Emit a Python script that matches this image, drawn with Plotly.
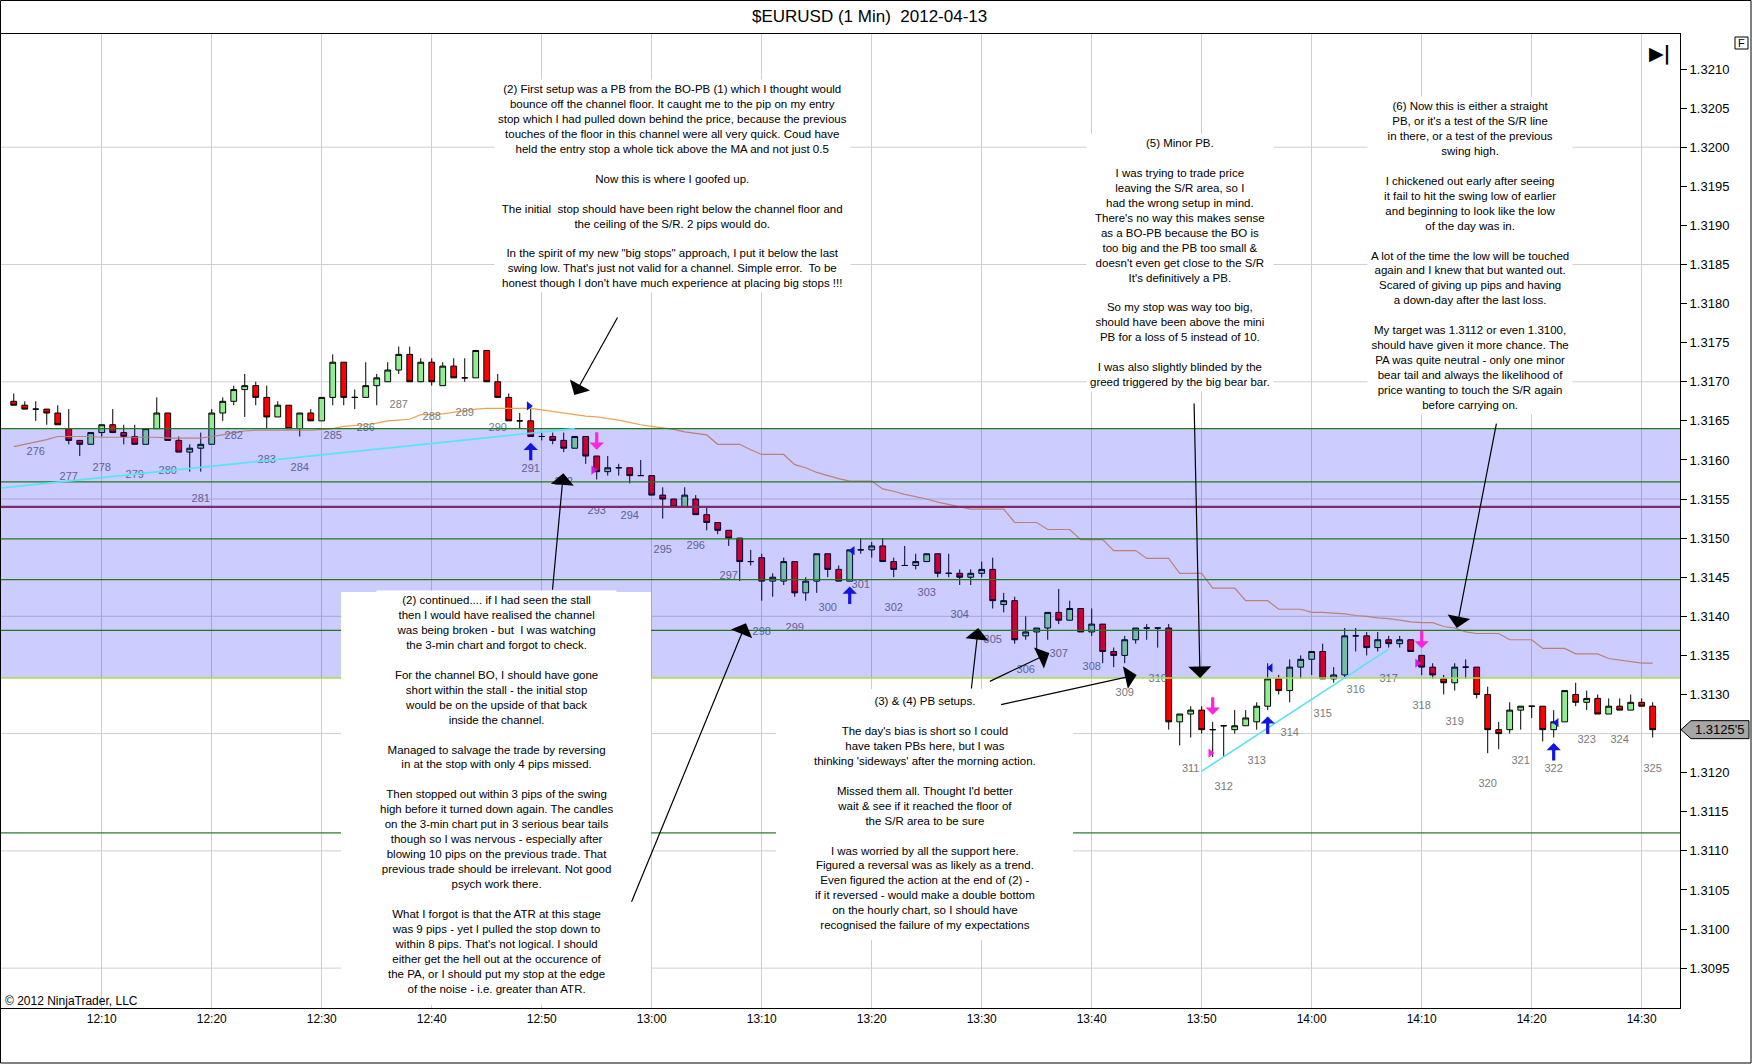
"""EURUSD 1-minute chart with trade-review notes (NinjaTrader style)."""

import pandas as pd
import plotly.graph_objects as go

TITLE = "$EURUSD (1 Min)\u00a0\u00a02012-04-13"
FIRST_BAR = "2012-04-13 12:02"

# one row per 10 bars, 12:02 -> 14:31
OPEN = [
    1.31675, 1.31670, 1.31665, 1.31665, 1.31660, 1.31640, 1.31625, 1.31620, 1.31635, 1.31645,
    1.31635, 1.31630, 1.31620, 1.31640, 1.31660, 1.31625, 1.31610, 1.31615, 1.31620, 1.31660,
    1.31675, 1.31690, 1.31695, 1.31680, 1.31655, 1.31670, 1.31640, 1.31660, 1.31650, 1.31680,
    1.31725, 1.31680, 1.31680, 1.31695, 1.31700, 1.31715, 1.31735, 1.31700, 1.31725, 1.31695,
    1.31720, 1.31705, 1.31705, 1.31740, 1.31700, 1.31680, 1.31650, 1.31650, 1.31630, 1.31630,
    1.31625, 1.31615, 1.31630, 1.31605, 1.31585, 1.31590, 1.31590, 1.31580, 1.31580, 1.31555,
    1.31550, 1.31540, 1.31550, 1.31530, 1.31520, 1.31510, 1.31500, 1.31470, 1.31475, 1.31445,
    1.31445, 1.31470, 1.31430, 1.31445, 1.31480, 1.31460, 1.31445, 1.31485, 1.31485, 1.31490,
    1.31470, 1.31465, 1.31465, 1.31470, 1.31480, 1.31455, 1.31455, 1.31450, 1.31455, 1.31460,
    1.31415, 1.31420, 1.31375, 1.31380, 1.31385, 1.31405, 1.31395, 1.31410, 1.31380, 1.31390,
    1.31355, 1.31350, 1.31370, 1.31385, 1.31385, 1.31385, 1.31265, 1.31275, 1.31280, 1.31255,
    1.31260, 1.31255, 1.31260, 1.31265, 1.31285, 1.31320, 1.31305, 1.31335, 1.31345, 1.31355,
    1.31320, 1.31325, 1.31375, 1.31375, 1.31360, 1.31370, 1.31365, 1.31370, 1.31350, 1.31335,
    1.31320, 1.31315, 1.31335, 1.31335, 1.31300, 1.31255, 1.31255, 1.31280, 1.31285, 1.31285,
    1.31255, 1.31265, 1.31300, 1.31290, 1.31295, 1.31275, 1.31285, 1.31280, 1.31290, 1.31285,
]
HIGH = [
    1.31685, 1.31675, 1.31675, 1.31665, 1.31670, 1.31665, 1.31625, 1.31635, 1.31645, 1.31665,
    1.31645, 1.31645, 1.31640, 1.31680, 1.31660, 1.31630, 1.31620, 1.31635, 1.31665, 1.31680,
    1.31695, 1.31710, 1.31700, 1.31695, 1.31675, 1.31670, 1.31660, 1.31665, 1.31680, 1.31735,
    1.31725, 1.31690, 1.31725, 1.31710, 1.31725, 1.31745, 1.31745, 1.31730, 1.31730, 1.31725,
    1.31730, 1.31730, 1.31740, 1.31740, 1.31710, 1.31685, 1.31660, 1.31670, 1.31635, 1.31635,
    1.31635, 1.31630, 1.31630, 1.31605, 1.31605, 1.31595, 1.31590, 1.31600, 1.31580, 1.31565,
    1.31550, 1.31565, 1.31555, 1.31540, 1.31520, 1.31510, 1.31500, 1.31485, 1.31480, 1.31455,
    1.31475, 1.31470, 1.31450, 1.31480, 1.31480, 1.31465, 1.31485, 1.31500, 1.31495, 1.31500,
    1.31475, 1.31490, 1.31480, 1.31480, 1.31480, 1.31480, 1.31460, 1.31460, 1.31470, 1.31475,
    1.31430, 1.31425, 1.31400, 1.31385, 1.31405, 1.31435, 1.31420, 1.31410, 1.31410, 1.31390,
    1.31360, 1.31375, 1.31385, 1.31390, 1.31385, 1.31390, 1.31275, 1.31285, 1.31285, 1.31265,
    1.31260, 1.31280, 1.31280, 1.31290, 1.31340, 1.31325, 1.31345, 1.31350, 1.31355, 1.31365,
    1.31335, 1.31385, 1.31385, 1.31380, 1.31380, 1.31375, 1.31375, 1.31370, 1.31350, 1.31340,
    1.31325, 1.31340, 1.31345, 1.31335, 1.31310, 1.31265, 1.31290, 1.31285, 1.31285, 1.31285,
    1.31280, 1.31305, 1.31315, 1.31305, 1.31300, 1.31295, 1.31295, 1.31300, 1.31295, 1.31290,
]
LOW = [
    1.31670, 1.31665, 1.31650, 1.31645, 1.31645, 1.31620, 1.31605, 1.31620, 1.31630, 1.31635,
    1.31620, 1.31620, 1.31620, 1.31640, 1.31625, 1.31610, 1.31585, 1.31585, 1.31620, 1.31650,
    1.31670, 1.31655, 1.31670, 1.31640, 1.31655, 1.31640, 1.31630, 1.31650, 1.31650, 1.31670,
    1.31670, 1.31665, 1.31680, 1.31670, 1.31700, 1.31710, 1.31700, 1.31700, 1.31695, 1.31695,
    1.31705, 1.31700, 1.31705, 1.31700, 1.31680, 1.31650, 1.31640, 1.31630, 1.31625, 1.31620,
    1.31610, 1.31615, 1.31595, 1.31575, 1.31580, 1.31580, 1.31570, 1.31580, 1.31555, 1.31525,
    1.31540, 1.31540, 1.31530, 1.31510, 1.31505, 1.31490, 1.31445, 1.31465, 1.31420, 1.31425,
    1.31440, 1.31425, 1.31420, 1.31430, 1.31450, 1.31445, 1.31445, 1.31480, 1.31475, 1.31470,
    1.31450, 1.31465, 1.31460, 1.31470, 1.31450, 1.31450, 1.31440, 1.31440, 1.31450, 1.31410,
    1.31405, 1.31365, 1.31370, 1.31355, 1.31370, 1.31390, 1.31395, 1.31380, 1.31375, 1.31340,
    1.31335, 1.31340, 1.31365, 1.31370, 1.31360, 1.31255, 1.31235, 1.31245, 1.31250, 1.31220,
    1.31220, 1.31250, 1.31260, 1.31255, 1.31280, 1.31300, 1.31290, 1.31320, 1.31325, 1.31320,
    1.31315, 1.31320, 1.31355, 1.31350, 1.31355, 1.31360, 1.31360, 1.31355, 1.31325, 1.31320,
    1.31300, 1.31305, 1.31320, 1.31295, 1.31225, 1.31230, 1.31250, 1.31255, 1.31270, 1.31240,
    1.31245, 1.31265, 1.31285, 1.31280, 1.31275, 1.31275, 1.31280, 1.31280, 1.31285, 1.31245,
]
CLOSE = [
    1.31670, 1.31665, 1.31665, 1.31660, 1.31645, 1.31625, 1.31620, 1.31635, 1.31645, 1.31635,
    1.31630, 1.31620, 1.31640, 1.31660, 1.31625, 1.31610, 1.31615, 1.31620, 1.31660, 1.31675,
    1.31690, 1.31695, 1.31680, 1.31655, 1.31670, 1.31640, 1.31660, 1.31650, 1.31680, 1.31725,
    1.31680, 1.31680, 1.31695, 1.31705, 1.31715, 1.31735, 1.31700, 1.31725, 1.31700, 1.31720,
    1.31705, 1.31705, 1.31740, 1.31700, 1.31680, 1.31650, 1.31650, 1.31630, 1.31630, 1.31625,
    1.31615, 1.31630, 1.31605, 1.31585, 1.31590, 1.31590, 1.31580, 1.31580, 1.31555, 1.31550,
    1.31540, 1.31555, 1.31530, 1.31520, 1.31510, 1.31500, 1.31470, 1.31470, 1.31445, 1.31450,
    1.31470, 1.31430, 1.31445, 1.31480, 1.31460, 1.31445, 1.31485, 1.31485, 1.31490, 1.31470,
    1.31460, 1.31465, 1.31470, 1.31480, 1.31455, 1.31455, 1.31450, 1.31455, 1.31460, 1.31420,
    1.31420, 1.31370, 1.31380, 1.31385, 1.31405, 1.31395, 1.31410, 1.31380, 1.31390, 1.31355,
    1.31350, 1.31370, 1.31385, 1.31385, 1.31385, 1.31265, 1.31275, 1.31280, 1.31255, 1.31255,
    1.31260, 1.31260, 1.31270, 1.31285, 1.31320, 1.31305, 1.31335, 1.31345, 1.31355, 1.31320,
    1.31325, 1.31375, 1.31375, 1.31360, 1.31370, 1.31365, 1.31370, 1.31355, 1.31335, 1.31325,
    1.31315, 1.31335, 1.31335, 1.31300, 1.31255, 1.31250, 1.31280, 1.31285, 1.31285, 1.31255,
    1.31265, 1.31305, 1.31290, 1.31295, 1.31275, 1.31285, 1.31280, 1.31290, 1.31285, 1.31255,
]
# moving average, one value per bar
MA = [
    1.31617, 1.31620, 1.31623, 1.31626, 1.31630, 1.31630, 1.31630, 1.31630, 1.31629, 1.31629,
    1.31629, 1.31629, 1.31629, 1.31629, 1.31628, 1.31628, 1.31628, 1.31628, 1.31630, 1.31632,
    1.31635, 1.31637, 1.31638, 1.31638, 1.31638, 1.31638, 1.31638, 1.31638, 1.31639, 1.31640,
    1.31643, 1.31644, 1.31645, 1.31647, 1.31650, 1.31651, 1.31652, 1.31658, 1.31658, 1.31659,
    1.31661, 1.31663, 1.31665, 1.31666, 1.31666, 1.31666, 1.31666, 1.31666, 1.31664, 1.31662,
    1.31660, 1.31658, 1.31656, 1.31655, 1.31653, 1.31651, 1.31648, 1.31645, 1.31643, 1.31641,
    1.31639, 1.31636, 1.31634, 1.31632, 1.31620, 1.31620, 1.31620, 1.31613, 1.31607, 1.31607,
    1.31607, 1.31594, 1.31590, 1.31584, 1.31580, 1.31576, 1.31573, 1.31573, 1.31573, 1.31563,
    1.31560, 1.31556, 1.31553, 1.31550, 1.31546, 1.31543, 1.31540, 1.31537, 1.31537, 1.31537,
    1.31537, 1.31520, 1.31520, 1.31520, 1.31511, 1.31511, 1.31511, 1.31498, 1.31498, 1.31498,
    1.31484, 1.31484, 1.31484, 1.31474, 1.31474, 1.31474, 1.31455, 1.31455, 1.31455, 1.31436,
    1.31436, 1.31436, 1.31420, 1.31420, 1.31420, 1.31409, 1.31409, 1.31409, 1.31405, 1.31405,
    1.31404, 1.31403, 1.31401, 1.31400, 1.31398, 1.31397, 1.31395, 1.31393, 1.31392, 1.31392,
    1.31387, 1.31385, 1.31380, 1.31378, 1.31378, 1.31378, 1.31370, 1.31370, 1.31370, 1.31359,
    1.31359, 1.31359, 1.31352, 1.31352, 1.31352, 1.31346, 1.31344, 1.31342, 1.31340, 1.31340,
]

# bar counter printed every third bar
BAR_NUMBERS = list(range(276, 326))
LABEL_FIRST = "2012-04-13 12:04"
LABEL_PRICES = [
    1.31610, 1.31578, 1.31590, 1.31580, 1.31585, 1.31550, 1.31630, 1.31600, 1.31590, 1.31630,
    1.31640, 1.31670, 1.31654, 1.31660, 1.31640, 1.31588, 1.31571, 1.31534, 1.31528, 1.31484,
    1.31490, 1.31451, 1.31380, 1.31385, 1.31410, 1.31440, 1.31410, 1.31430, 1.31401, 1.31370,
    1.31331, 1.31351, 1.31335, 1.31301, 1.31320, 1.31204, 1.31181, 1.31215, 1.31250, 1.31275,
    1.31305, 1.31320, 1.31285, 1.31265, 1.31185, 1.31215, 1.31205, 1.31241, 1.31241, 1.31205,
]

# signal arrows (price at the arrow tip)
BUY_TIMES = ["2012-04-13 12:49", "2012-04-13 13:18", "2012-04-13 13:56", "2012-04-13 14:22"]
BUY_TIPS = [1.31622, 1.31438, 1.31272, 1.31238]
SELL_TIMES = ["2012-04-13 12:55", "2012-04-13 13:51", "2012-04-13 14:10"]
SELL_TIPS = [1.31613, 1.31274, 1.31359]
# small entry/exit flags
BLUE_FLAG_TIMES = ["2012-04-13 12:48:50", "2012-04-13 13:18:15",
                   "2012-04-13 13:56:15", "2012-04-13 14:22:15"]
BLUE_FLAG_PRICES = [1.31669, 1.31484, 1.31334, 1.31264]
PINK_FLAG_TIMES = ["2012-04-13 12:54:42", "2012-04-13 13:50:48", "2012-04-13 14:09:36"]
PINK_FLAG_PRICES = [1.31587, 1.31225, 1.31340]

# drawn trend lines
TREND1_TIMES = ["2012-04-13 12:00:45", "2012-04-13 12:53"]
TREND1_PRICES = [1.31564, 1.31640]
TREND2_TIMES = ["2012-04-13 13:50", "2012-04-13 14:07"]
TREND2_PRICES = [1.31202, 1.31358]

# S/R zone and horizontal lines
BAND_TOP = 1.31640
BAND_BOTTOM = 1.31321
GREEN_LEVELS = [1.31640, 1.31572, 1.31499, 1.31447, 1.31382]
PURPLE_LEVEL = 1.31540
LOWER_LEVEL = 1.31123
GRID_LEVELS = [1.3095, 1.3110, 1.3125, 1.3140, 1.3155, 1.3170, 1.3185, 1.3200]

YTICKS = [1.3095, 1.3100, 1.3105, 1.3110, 1.3115, 1.3120, 1.3130, 1.3135, 1.3140,
          1.3145, 1.3150, 1.3155, 1.3160, 1.3165, 1.3170, 1.3175, 1.3180, 1.3185,
          1.3190, 1.3195, 1.3200, 1.3205, 1.3210]
LAST_PRICE = 1.31255
LAST_TEXT = "1.3125'5"

NOTE_2 = (
    "(2) First setup was a PB from the BO-PB (1) which I thought would<br>"
    "bounce off the channel floor. It caught me to the pip on my entry<br>"
    "stop which I had pulled down behind the price, because the previous<br>"
    "touches of the floor in this channel were all very quick. Coud have<br>"
    "held the entry stop a whole tick above the MA and not just 0.5<br><br>"
    "Now this is where I goofed up.<br><br>"
    "The initial  stop should have been right below the channel floor and<br>"
    "the ceiling of the S/R. 2 pips would do.<br><br>"
    "In the spirit of my new \"big stops\" approach, I put it below the last<br>"
    "swing low. That's just not valid for a channel. Simple error.  To be<br>"
    "honest though I don't have much experience at placing big stops !!!"
)
NOTE_5 = (
    "(5) Minor PB.<br><br>"
    "I was trying to trade price<br>"
    "leaving the S/R area, so I<br>"
    "had the wrong setup in mind.<br>"
    "There's no way this makes sense<br>"
    "as a BO-PB because the BO is<br>"
    "too big and the PB too small &amp;<br>"
    "doesn't even get close to the S/R<br>"
    "It's definitively a PB.<br><br>"
    "So my stop was way too big,<br>"
    "should have been above the mini<br>"
    "PB for a loss of 5 instead of 10.<br><br>"
    "I was also slightly blinded by the<br>"
    "greed triggered by the big bear bar."
)
NOTE_6 = (
    "(6) Now this is either a straight<br>"
    "PB, or it's a test of the S/R line<br>"
    "in there, or a test of the previous<br>"
    "swing high.<br><br>"
    "I chickened out early after seeing<br>"
    "it fail to hit the swing low of earlier<br>"
    "and beginning to look like the low<br>"
    "of the day was in.<br><br>"
    "A lot of the time the low will be touched<br>"
    "again and I knew that but wanted out.<br>"
    "Scared of giving up pips and having<br>"
    "a down-day after the last loss.<br><br>"
    "My target was 1.3112 or even 1.3100,<br>"
    "should have given it more chance. The<br>"
    "PA was quite neutral - only one minor<br>"
    "bear tail and always the likelihood of<br>"
    "price wanting to touch the S/R again<br>"
    "before carrying on."
)
NOTE_2B = (
    "(2) continued.... if I had seen the stall<br>"
    "then I would have realised the channel<br>"
    "was being broken - but  I was watching<br>"
    "the 3-min chart and forgot to check.<br><br>"
    "For the channel BO, I should have gone<br>"
    "short within the stall - the initial stop<br>"
    "would be on the upside of that back<br>"
    "inside the channel.<br><br>"
    "Managed to salvage the trade by reversing<br>"
    "in at the stop with only 4 pips missed.<br><br>"
    "Then stopped out within 3 pips of the swing<br>"
    "high before it turned down again. The candles<br>"
    "on the 3-min chart put in 3 serious bear tails<br>"
    "though so I was nervous - especially after<br>"
    "blowing 10 pips on the previous trade. That<br>"
    "previous trade should be irrelevant. Not good<br>"
    "psych work there.<br><br>"
    "What I forgot is that the ATR at this stage<br>"
    "was 9 pips - yet I pulled the stop down to<br>"
    "within 8 pips. That's not logical. I should<br>"
    "either get the hell out at the occurence of<br>"
    "the PA, or I should put my stop at the edge<br>"
    "of the noise - i.e. greater than ATR."
)
NOTE_34 = (
    "(3) &amp; (4) PB setups.<br><br>"
    "The day's bias is short so I could<br>"
    "have taken PBs here, but I was<br>"
    "thinking 'sideways' after the morning action.<br><br>"
    "Missed them all. Thought I'd better<br>"
    "wait &amp; see if it reached the floor of<br>"
    "the S/R area to be sure<br><br>"
    "I was worried by all the support here.<br>"
    "Figured a reversal was as likely as a trend.<br>"
    "Even figured the action at the end of (2) -<br>"
    "if it reversed - would make a double bottom<br>"
    "on the hourly chart, so I should have<br>"
    "recognised the failure of my expectations"
)

FONT = "Arial, Liberation Sans, sans-serif"
W, H = 1752, 1064
MARGIN = dict(l=0, r=72, t=34, b=56)
PW = W - MARGIN["l"] - MARGIN["r"]
PH = H - MARGIN["t"] - MARGIN["b"]


def px(x):
    return x / PW


def py(y):
    return (H - MARGIN["b"] - y) / PH


times = pd.date_range(FIRST_BAR, periods=len(OPEN), freq="min")
label_times = pd.date_range(LABEL_FIRST, periods=len(BAR_NUMBERS), freq="3min")

fig = go.Figure()
fig.add_trace(go.Candlestick(
    x=times, open=OPEN, high=HIGH, low=LOW, close=CLOSE,
    increasing=dict(fillcolor="#90EE90", line=dict(color="black", width=1)),
    decreasing=dict(fillcolor="#FF0000", line=dict(color="black", width=1)),
    hoverinfo="skip",
))
fig.add_trace(go.Scatter(x=times, y=MA, mode="lines",
                         line=dict(color="#EBA253", width=1.2), hoverinfo="skip"))
fig.add_trace(go.Scatter(
    x=label_times, y=LABEL_PRICES, mode="text", text=[str(n) for n in BAR_NUMBERS],
    textfont=dict(family=FONT, size=11, color="#7A7A7A"), hoverinfo="skip",
))
fig.add_trace(go.Scatter(
    x=BLUE_FLAG_TIMES, y=BLUE_FLAG_PRICES, mode="markers",
    marker=dict(symbol=["triangle-right", "triangle-left", "triangle-left", "triangle-left"],
                size=8, color="#1515E0"), hoverinfo="skip",
))
fig.add_trace(go.Scatter(
    x=PINK_FLAG_TIMES, y=PINK_FLAG_PRICES, mode="markers",
    marker=dict(symbol="triangle-right", size=8, color="#FF22E0"), hoverinfo="skip",
))

shapes = []
for lvl in GRID_LEVELS:
    shapes.append(dict(type="line", xref="paper", x0=0, x1=1, yref="y", y0=lvl, y1=lvl,
                       line=dict(color="#CFCFCF", width=1), layer="below"))
shapes.append(dict(type="rect", xref="paper", x0=0, x1=1, yref="y",
                   y0=BAND_BOTTOM, y1=BAND_TOP, fillcolor="rgba(0,0,255,0.2)",
                   line=dict(width=0), layer="above"))
for lvl in GREEN_LEVELS:
    shapes.append(dict(type="line", xref="paper", x0=0, x1=1, yref="y", y0=lvl, y1=lvl,
                       line=dict(color="#1F7A1F", width=1.2), layer="above"))
shapes.append(dict(type="line", xref="paper", x0=0, x1=1, yref="y",
                   y0=PURPLE_LEVEL, y1=PURPLE_LEVEL,
                   line=dict(color="#7D2A66", width=2.2), layer="above"))
shapes.append(dict(type="line", xref="paper", x0=0, x1=1, yref="y",
                   y0=BAND_BOTTOM, y1=BAND_BOTTOM,
                   line=dict(color="#A8DC4A", width=1.6), layer="above"))
shapes.append(dict(type="line", xref="paper", x0=0, x1=1, yref="y",
                   y0=LOWER_LEVEL, y1=LOWER_LEVEL,
                   line=dict(color="#2E7D32", width=1.2), layer="above"))
# trend lines sit on top of the zone tint
for tx, ty in ((TREND1_TIMES, TREND1_PRICES), (TREND2_TIMES, TREND2_PRICES)):
    shapes.append(dict(type="line", xref="x", yref="y",
                       x0=tx[0], x1=tx[1], y0=ty[0], y1=ty[1],
                       line=dict(color="#5BE3F5", width=1.6), layer="above"))
# white note panels
shapes.append(dict(type="rect", xref="paper", yref="paper",
                   x0=px(341), x1=px(651), y0=py(1005), y1=py(592),
                   fillcolor="white", line=dict(width=0), layer="above"))
shapes.append(dict(type="rect", xref="paper", yref="paper",
                   x0=px(776), x1=px(1073), y0=py(940), y1=py(689),
                   fillcolor="white", line=dict(width=0), layer="above"))
# last-price marker
tip = 9 / 7.82 / 10000
shapes.append(dict(
    type="path", xref="paper", yref="y", fillcolor="#A6A6A6",
    line=dict(color="black", width=1), layer="above",
    path=(f"M {px(1681)},{LAST_PRICE} L {px(1691)},{LAST_PRICE + tip} "
          f"L {px(1749)},{LAST_PRICE + tip} L {px(1749)},{LAST_PRICE - tip} "
          f"L {px(1691)},{LAST_PRICE - tip} Z"),
))
# "F" box in the top-right corner
shapes.append(dict(type="rect", xref="paper", yref="paper",
                   x0=px(1735), x1=px(1748), y0=py(49), y1=py(37),
                   line=dict(color="black", width=1), fillcolor="white", layer="above"))
# outer frame
shapes.append(dict(type="rect", xref="paper", yref="paper",
                   x0=px(0.5), x1=px(W - 1), y0=py(H - 1), y1=py(0.5),
                   line=dict(color="black", width=1), fillcolor="rgba(0,0,0,0)",
                   layer="above"))

notes = [
    (NOTE_2, 672, 186),
    (NOTE_5, 1180, 262),
    (NOTE_6, 1470, 255),
    (NOTE_2B, 496, 794),
    (NOTE_34, 925, 813),
]
annotations = []
for text, cx, cy in notes:
    annotations.append(dict(
        text=text, xref="paper", yref="paper", x=px(cx), y=py(cy),
        xanchor="center", yanchor="middle", align="center", showarrow=False,
        bgcolor="white", borderpad=3,
        font=dict(family=FONT, size=11.5, color="black"),
    ))

# pointer arrows from the notes: (tip time, tip price, dx, dy)
pointers = [
    ("2012-04-13 12:52:58", 1.31683, 44, -79),
    ("2012-04-13 12:51:58", 1.31583, -11, 118),
    ("2012-04-13 13:08:34", 1.31391, -115, 280),
    ("2012-04-13 13:29:41", 1.31385, -7, 62),
    ("2012-04-13 13:36:09", 1.31353, -61, 29),
    ("2012-04-13 13:44:05", 1.31325, -137, 30),
    ("2012-04-13 13:49:51", 1.31321, -6, -276),
    ("2012-04-13 14:13:11", 1.31385, 40, -206),
]
for t, p, dx, dy in pointers:
    annotations.append(dict(
        x=t, y=p, xref="x", yref="y", text="", showarrow=True,
        ax=dx, ay=dy, arrowhead=1, arrowsize=3.2, arrowwidth=1.2, arrowcolor="black",
        standoff=0,
    ))
for t, p in zip(BUY_TIMES, BUY_TIPS):
    annotations.append(dict(
        x=t, y=p, xref="x", yref="y", text="", showarrow=True, ax=0, ay=19,
        arrowhead=1, arrowsize=0.75, arrowwidth=3.2, arrowcolor="#1515E0", standoff=0,
    ))
for t, p in zip(SELL_TIMES, SELL_TIPS):
    annotations.append(dict(
        x=t, y=p, xref="x", yref="y", text="", showarrow=True, ax=0, ay=-19,
        arrowhead=1, arrowsize=0.75, arrowwidth=3.2, arrowcolor="#FF22E0", standoff=0,
    ))

annotations += [
    dict(text=TITLE, xref="paper", yref="paper", x=px(869), y=py(16),
         xanchor="center", yanchor="middle", showarrow=False,
         font=dict(family=FONT, size=17, color="black")),
    dict(text="© 2012 NinjaTrader, LLC", xref="paper", yref="paper", x=px(3), y=py(1001),
         xanchor="left", yanchor="middle", showarrow=False,
         font=dict(family=FONT, size=12, color="black")),
    dict(text="F", xref="paper", yref="paper", x=px(1741.5), y=py(43),
         xanchor="center", yanchor="middle", showarrow=False,
         font=dict(family=FONT, size=11, color="black")),
    dict(text="<b>▶|</b>", xref="paper", yref="paper", x=px(1660), y=py(54),
         xanchor="center", yanchor="middle", showarrow=False,
         font=dict(family="DejaVu Sans", size=19, color="black")),
    dict(text=LAST_TEXT, xref="paper", yref="y", x=px(1720), y=LAST_PRICE,
         xanchor="center", yanchor="middle", showarrow=False,
         font=dict(family=FONT, size=13, color="black")),
]

fig.update_layout(
    width=W, height=H, margin=MARGIN,
    paper_bgcolor="white", plot_bgcolor="white",
    showlegend=False, boxgap=0.25,
    font=dict(family=FONT, color="black"),
    shapes=shapes, annotations=annotations,
    xaxis=dict(
        type="date", range=["2012-04-13 12:00:45", "2012-04-13 14:33:29"],
        rangeslider=dict(visible=False), tickformat="%H:%M",
        tick0="2012-04-13 12:00", dtick=600000,
        showgrid=True, gridcolor="#CFCFCF", gridwidth=1,
        showline=True, linecolor="black", linewidth=1, mirror=True,
        ticks="", tickfont=dict(size=12), zeroline=False,
    ),
    yaxis=dict(
        side="right", range=[1.30899, 1.321448],
        tickvals=YTICKS, ticktext=[f"{v:.4f}" for v in YTICKS],
        ticks="outside", ticklen=6, tickcolor="black",
        showgrid=False, zeroline=False,
        showline=True, linecolor="black", linewidth=1, mirror=True,
        tickfont=dict(size=13),
    ),
)

# no default body margin and no modebar, so the chart sits at the window origin
fig.write_html("out.html", config={"displayModeBar": False},
               post_script="document.body.style.margin='0';")
